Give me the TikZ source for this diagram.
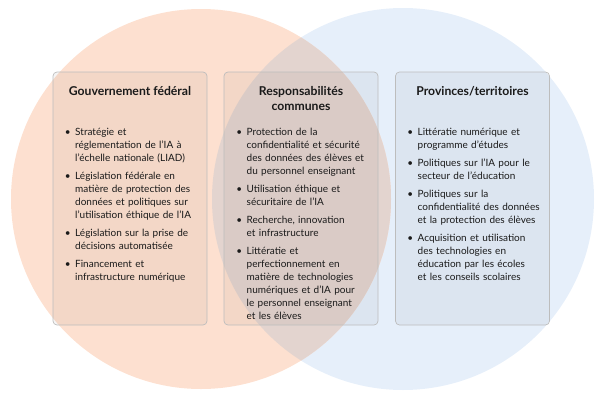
\documentclass[tikz,border=0pt]{standalone}
\usepackage{fontspec}
\setmainfont{Lato}
\definecolor{orangec}{HTML}{FDE0D0}
\definecolor{bluec}{HTML}{E6EFFA}
\definecolor{overc}{HTML}{E3D4CF}
\definecolor{boxline}{HTML}{BDBDBD}
\definecolor{txt}{HTML}{1A1A1A}
\newcommand\bitem[1]{\par\hangindent=8pt\hangafter=0\noindent\llap{\textbullet\hspace{4.5pt}}\strut#1\par\vspace{5pt}}
\tikzset{
  panel/.style={draw=boxline, line width=0.7pt, rounded corners=4pt, fill=black, fill opacity=0.04, text opacity=1, minimum width=154pt, minimum height=253pt, inner sep=0pt},
  ttl/.style={font=\fontsize{12.2}{15}\selectfont\bfseries, text=txt, align=center, inner sep=0pt, anchor=base},
  lst/.style={font=\fontsize{10}{13}\selectfont, text=txt, text width=135pt, inner sep=0pt, anchor=north west, align=left}
}
\begin{document}
\begin{tikzpicture}[x=1pt,y=-1pt]
\useasboundingbox (0,0) rectangle (600,400);
\fill[bluec] (403,199) circle (191);
\fill[orangec] (201,199) circle (190);
\begin{scope}
  \clip (201,199) circle (190);
  \fill[overc] (403,199) circle (191);
\end{scope}
\node[panel] (fedbox) at (130,198.5) {};
\node[panel] (combox) at (301,198.5) {};
\node[panel] (provbox) at (472.5,198.5) {};
\node[ttl] (fedtitle) at (130,95.5) {Gouvernement fédéral};
\node[ttl] (comtitle) at (301,110.5) {Responsabilités\\communes};
\node[ttl] (provtitle) at (472.5,95.5) {Provinces/territoires};
\node[lst] (fedlist) at (67,122.4) {%
\bitem{Stratégie et\newline réglementation de l’IA à\newline l’échelle nationale (LIAD)}%
\bitem{Législation fédérale en\newline matière de protection des\newline données et politiques sur\newline l’utilisation éthique de l’IA}%
\bitem{Législation sur la prise de\newline décisions automatisée}%
\bitem{Financement et\newline infrastructure numérique}};
\node[lst] (comlist) at (238.5,122.4) {%
\bitem{Protection de la\newline confidentialité et sécurité\newline des données des élèves et\newline du personnel enseignant}%
\bitem{Utilisation éthique et\newline sécuritaire de l’IA}%
\bitem{Recherche, innovation\newline et infrastructure}%
\bitem{Littératie et\newline perfectionnement en\newline matière de technologies\newline numériques et d’IA pour\newline le personnel enseignant\newline et les élèves}};
\node[lst] (provlist) at (409.5,122.4) {%
\bitem{Littératie numérique et\newline programme d’études}%
\bitem{Politiques sur l’IA pour le\newline secteur de l’éducation}%
\bitem{Politiques sur la\newline confidentialité des données\newline et la protection des élèves}%
\bitem{Acquisition et utilisation\newline des technologies en\newline éducation par les écoles\newline et les conseils scolaires}};
\end{tikzpicture}
\end{document}
